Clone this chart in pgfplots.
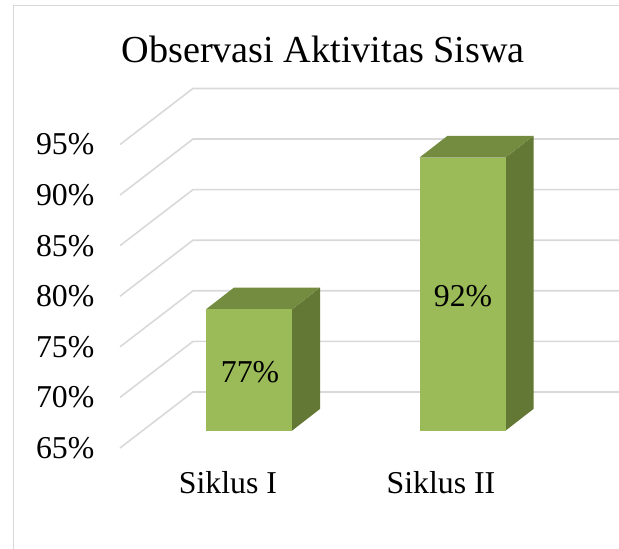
\documentclass[border=0pt]{standalone}
\usepackage{fontspec}
\setmainfont{Liberation Serif}
\usepackage{pgfplots}
\pgfplotsset{compat=1.18}
\definecolor{gridc}{HTML}{D9D9D9}
\definecolor{frontc}{HTML}{9BBB59}
\definecolor{topc}{HTML}{748C40}
\definecolor{sidec}{HTML}{647836}
\begin{document}
\begin{tikzpicture}[x=1pt,y=1pt]
\path[use as bounding box] (0,0) rectangle (619,549);
\draw[gridc,line width=1.8pt] (13.5,0) -- (13.5,543.5) -- (619,543.5);
\node[anchor=base,inner sep=0pt,font=\fontsize{38.2}{42}\selectfont] at (323.2,486.5) {Observasi Aktivitas Siswa};
% wall and axis: 65% at y=448 px, 95% at y=144.5 px
\begin{axis}[
  at={(120pt,101pt)},anchor=south west,
  scale only axis,width=499pt,height=303.5pt,
  xmin=120,xmax=619,ymin=65,ymax=95,
  clip=false,
  axis line style={draw=none},
  major tick length=0pt,
  ytick={65,70,75,80,85,90,95},
  yticklabel={\pgfmathprintnumber{\tick}\%},
  xtick={228,441},
  xticklabels={Siklus I,Siklus II},
  /pgf/number format/assume math mode=true,
  yticklabel style={font=\fontsize{31.8}{36}\selectfont,inner sep=0pt,anchor=east,xshift=-25.5pt},
  xticklabel style={font=\fontsize{31.8}{36}\selectfont,inner sep=0pt,anchor=base,yshift=-46pt},
]
\addplot[gridc,line width=1.6pt] coordinates {(120,65) (193,70.54) (619,70.54)};
\addplot[gridc,line width=1.6pt] coordinates {(120,70) (193,75.54) (619,75.54)};
\addplot[gridc,line width=1.6pt] coordinates {(120,75) (193,80.54) (619,80.54)};
\addplot[gridc,line width=1.6pt] coordinates {(120,80) (193,85.54) (619,85.54)};
\addplot[gridc,line width=1.6pt] coordinates {(120,85) (193,90.54) (619,90.54)};
\addplot[gridc,line width=1.6pt] coordinates {(120,90) (193,95.54) (619,95.54)};
\addplot[gridc,line width=1.6pt] coordinates {(120,95) (193,100.54) (619,100.54)};
\end{axis}
% bars: base plane, 65% at y=430.7 px, 95% at y=127.2 px
\begin{axis}[
  at={(120pt,118.3pt)},anchor=south west,
  scale only axis,width=499pt,height=303.5pt,
  xmin=120,xmax=619,ymin=65,ymax=95,
  clip=false,hide axis,
]
% Siklus I = 77
\addplot[fill=sidec,draw=none] coordinates {(292,65) (320,67.15) (320,79.15) (292,77)} --cycle;
\addplot[fill=topc,draw=none] coordinates {(206,77) (292,77) (320,79.15) (234,79.15)} --cycle;
\addplot[fill=frontc,draw=none] coordinates {(206,65) (292,65) (292,77) (206,77)} --cycle;
% Siklus II = 92
\addplot[fill=sidec,draw=none] coordinates {(505.5,65) (533.5,67.15) (533.5,94.15) (505.5,92)} --cycle;
\addplot[fill=topc,draw=none] coordinates {(419.5,92) (505.5,92) (533.5,94.15) (447.5,94.15)} --cycle;
\addplot[fill=frontc,draw=none] coordinates {(419.5,65) (505.5,65) (505.5,92) (419.5,92)} --cycle;
\node[font=\fontsize{31.8}{36}\selectfont,inner sep=0pt] at (axis cs:250,70.8) {77\%};
\node[font=\fontsize{31.8}{36}\selectfont,inner sep=0pt] at (axis cs:463,78.3) {92\%};
\end{axis}
\end{tikzpicture}
\end{document}
